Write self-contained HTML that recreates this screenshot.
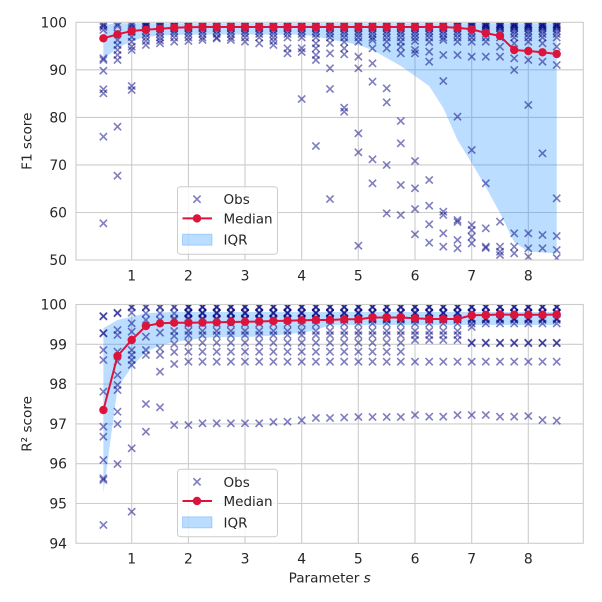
<!DOCTYPE html>
<html><head><meta charset="utf-8"><style>
html,body{margin:0;padding:0;background:#fff;}
svg{display:block;}
text{font-family:"DejaVu Sans","Liberation Sans",sans-serif;fill:#262626;}
</style></head><body>
<svg width="602" height="602" viewBox="0 0 602 602" xmlns="http://www.w3.org/2000/svg">
<defs>
<clipPath id="c1"><rect x="76" y="22.3" width="507.3" height="237.7"/></clipPath>
<clipPath id="c2"><rect x="76" y="304.5" width="507.3" height="238.8"/></clipPath>
<path id="m" d="M-3.6,-3.6L3.6,3.6M-3.6,3.6L3.6,-3.6" stroke="#000080" stroke-opacity="0.5" stroke-width="1.65" fill="none"/>
<g id="tb"><use href="#m" y="23.8"/><use href="#m" y="24.5"/><use href="#m" y="25"/><use href="#m" y="26.5"/><use href="#m" y="27"/><use href="#m" y="28.5"/><use href="#m" y="31"/><use href="#m" y="34"/><use href="#m" y="37.5"/></g>
<g id="bb"><use href="#m" y="306.5"/><use href="#m" y="307"/><use href="#m" y="307.5"/><use href="#m" y="312.5"/><use href="#m" y="313"/><use href="#m" y="313.5"/><use href="#m" y="318.5"/><use href="#m" y="319"/><use href="#m" y="320"/><use href="#m" y="323.5"/><use href="#m" y="331"/><use href="#m" y="335"/><use href="#m" y="342.7"/><use href="#m" y="351.7"/><use href="#m" y="361.7"/></g>
<g id="bc"><use href="#m" y="306.5"/><use href="#m" y="307"/><use href="#m" y="307.5"/><use href="#m" y="312.5"/><use href="#m" y="313"/><use href="#m" y="313.5"/><use href="#m" y="318.5"/><use href="#m" y="319"/><use href="#m" y="320"/><use href="#m" y="323.5"/><use href="#m" y="331"/><use href="#m" y="335"/><use href="#m" y="340"/><use href="#m" y="361.7"/></g>
<g id="bd"><use href="#m" y="306.5"/><use href="#m" y="307"/><use href="#m" y="307.5"/><use href="#m" y="312.5"/><use href="#m" y="313"/><use href="#m" y="313.5"/><use href="#m" y="318.5"/><use href="#m" y="319"/><use href="#m" y="320"/><use href="#m" y="323.5"/><use href="#m" y="342.7"/><use href="#m" y="343.2"/><use href="#m" y="361.7"/></g>
</defs>

<!-- ===== TOP AXES ===== -->
<g stroke="#cccccc" stroke-width="1.1">
<line x1="76" y1="69.8" x2="583.3" y2="69.8"/><line x1="76" y1="117.4" x2="583.3" y2="117.4"/><line x1="76" y1="164.9" x2="583.3" y2="164.9"/><line x1="76" y1="212.5" x2="583.3" y2="212.5"/>
<line x1="131.7" y1="22.3" x2="131.7" y2="260"/><line x1="188.4" y1="22.3" x2="188.4" y2="260"/><line x1="245" y1="22.3" x2="245" y2="260"/><line x1="301.7" y1="22.3" x2="301.7" y2="260"/><line x1="358.3" y1="22.3" x2="358.3" y2="260"/><line x1="415" y1="22.3" x2="415" y2="260"/><line x1="471.7" y1="22.3" x2="471.7" y2="260"/><line x1="528.3" y1="22.3" x2="528.3" y2="260"/>
</g>
<g clip-path="url(#c1)">
<polygon fill="#1e90ff" fill-opacity="0.3" points="103.4,25 117.5,23.3 556.7,23.3 556.7,253.3 542.5,252.5 528.3,251.5 514.2,242 500,213 485.8,187 471.7,163 457.5,140 443.3,108 429.2,86 415,76 400.8,66 386.7,58 372.5,50 358.4,45 344.2,42 330,39.5 315.9,36.5 301.7,34.5 188.4,34.5 174.2,35 160,35.5 145.9,37 131.7,41 117.5,48 103.4,58.9"/>
<g transform="translate(103.4,0)"><use href="#m" y="24"/><use href="#m" y="25.5"/><use href="#m" y="27"/><use href="#m" y="30"/><use href="#m" y="58.3"/><use href="#m" y="60"/><use href="#m" y="70.7"/><use href="#m" y="89.3"/><use href="#m" y="93.3"/><use href="#m" y="136.7"/><use href="#m" y="223.3"/></g>
<g transform="translate(117.5,0)"><use href="#m" y="24"/><use href="#m" y="26"/><use href="#m" y="33.3"/><use href="#m" y="40"/><use href="#m" y="45"/><use href="#m" y="50"/><use href="#m" y="55"/><use href="#m" y="60"/><use href="#m" y="126.7"/><use href="#m" y="175.7"/></g>
<g transform="translate(131.7,0)"><use href="#m" y="24"/><use href="#m" y="25.5"/><use href="#m" y="28"/><use href="#m" y="32"/><use href="#m" y="37"/><use href="#m" y="41.7"/><use href="#m" y="46.7"/><use href="#m" y="50"/><use href="#m" y="86"/><use href="#m" y="90"/></g>
<g transform="translate(145.9,0)"><use href="#tb"/><use href="#m" y="41"/><use href="#m" y="45"/></g>
<g transform="translate(160,0)"><use href="#tb"/><use href="#m" y="40.5"/><use href="#m" y="43.3"/></g>
<g transform="translate(174.2,0)"><use href="#tb"/><use href="#m" y="41.7"/></g>
<g transform="translate(188.4,0)"><use href="#tb"/><use href="#m" y="41"/></g>
<g transform="translate(202.5,0)"><use href="#tb"/><use href="#m" y="40"/></g>
<g transform="translate(216.7,0)"><use href="#tb"/><use href="#m" y="38.5"/></g>
<g transform="translate(230.9,0)"><use href="#tb"/><use href="#m" y="40"/></g>
<g transform="translate(245,0)"><use href="#tb"/><use href="#m" y="41.7"/></g>
<g transform="translate(259.2,0)"><use href="#tb"/><use href="#m" y="43.3"/></g>
<g transform="translate(273.4,0)"><use href="#tb"/><use href="#m" y="41"/><use href="#m" y="45"/></g>
<g transform="translate(287.5,0)"><use href="#tb"/><use href="#m" y="48.3"/><use href="#m" y="53.3"/></g>
<g transform="translate(301.7,0)"><use href="#tb"/><use href="#m" y="48.3"/><use href="#m" y="52"/><use href="#m" y="99"/></g>
<g transform="translate(315.9,0)"><use href="#tb"/><use href="#m" y="43.3"/><use href="#m" y="48.3"/><use href="#m" y="55"/><use href="#m" y="60"/><use href="#m" y="146"/></g>
<g transform="translate(330,0)"><use href="#tb"/><use href="#m" y="43"/><use href="#m" y="53.3"/><use href="#m" y="68.3"/><use href="#m" y="89"/><use href="#m" y="199"/></g>
<g transform="translate(344.2,0)"><use href="#tb"/><use href="#m" y="42"/><use href="#m" y="48.3"/><use href="#m" y="54.3"/><use href="#m" y="107.7"/><use href="#m" y="111.7"/></g>
<g transform="translate(358.4,0)"><use href="#tb"/><use href="#m" y="41.7"/><use href="#m" y="56.7"/><use href="#m" y="68.3"/><use href="#m" y="133.3"/><use href="#m" y="152.3"/><use href="#m" y="245.7"/></g>
<g transform="translate(372.5,0)"><use href="#tb"/><use href="#m" y="40"/><use href="#m" y="48.3"/><use href="#m" y="63.3"/><use href="#m" y="81.7"/><use href="#m" y="159.3"/><use href="#m" y="183.3"/></g>
<g transform="translate(386.7,0)"><use href="#tb"/><use href="#m" y="41.7"/><use href="#m" y="48.3"/><use href="#m" y="88.3"/><use href="#m" y="102.3"/><use href="#m" y="165"/><use href="#m" y="213.3"/></g>
<g transform="translate(400.8,0)"><use href="#tb"/><use href="#m" y="41.7"/><use href="#m" y="46.7"/><use href="#m" y="53.3"/><use href="#m" y="121"/><use href="#m" y="143.3"/><use href="#m" y="185"/><use href="#m" y="215"/></g>
<g transform="translate(415,0)"><use href="#tb"/><use href="#m" y="41"/><use href="#m" y="50"/><use href="#m" y="53.3"/><use href="#m" y="161"/><use href="#m" y="188.3"/><use href="#m" y="209"/><use href="#m" y="234.3"/></g>
<g transform="translate(429.2,0)"><use href="#tb"/><use href="#m" y="42"/><use href="#m" y="51.7"/><use href="#m" y="61.7"/><use href="#m" y="180"/><use href="#m" y="205.7"/><use href="#m" y="224.3"/><use href="#m" y="242.7"/></g>
<g transform="translate(443.3,0)"><use href="#tb"/><use href="#m" y="40"/><use href="#m" y="55"/><use href="#m" y="81"/><use href="#m" y="211.7"/><use href="#m" y="215"/><use href="#m" y="233.3"/><use href="#m" y="246.7"/></g>
<g transform="translate(457.5,0)"><use href="#tb"/><use href="#m" y="41.7"/><use href="#m" y="55"/><use href="#m" y="116.7"/><use href="#m" y="220"/><use href="#m" y="222"/><use href="#m" y="240"/><use href="#m" y="248.3"/></g>
<g transform="translate(471.7,0)"><use href="#tb"/><use href="#m" y="41.7"/><use href="#m" y="56.7"/><use href="#m" y="150"/><use href="#m" y="225"/><use href="#m" y="230"/><use href="#m" y="236.7"/><use href="#m" y="243.3"/></g>
<g transform="translate(485.8,0)"><use href="#tb"/><use href="#m" y="41.7"/><use href="#m" y="56.7"/><use href="#m" y="183.3"/><use href="#m" y="228.3"/><use href="#m" y="246.7"/><use href="#m" y="248"/></g>
<g transform="translate(500,0)"><use href="#tb"/><use href="#m" y="46.7"/><use href="#m" y="56.7"/><use href="#m" y="221.7"/><use href="#m" y="246.7"/><use href="#m" y="251.7"/><use href="#m" y="255"/></g>
<g transform="translate(514.2,0)"><use href="#tb"/><use href="#m" y="43.3"/><use href="#m" y="58.3"/><use href="#m" y="70"/><use href="#m" y="233.3"/><use href="#m" y="246.7"/><use href="#m" y="253.3"/></g>
<g transform="translate(528.3,0)"><use href="#tb"/><use href="#m" y="41.7"/><use href="#m" y="60"/><use href="#m" y="105"/><use href="#m" y="233.3"/><use href="#m" y="248.3"/><use href="#m" y="256.7"/></g>
<g transform="translate(542.5,0)"><use href="#tb"/><use href="#m" y="43.3"/><use href="#m" y="61.7"/><use href="#m" y="153.3"/><use href="#m" y="235"/><use href="#m" y="248.3"/></g>
<g transform="translate(556.7,0)"><use href="#tb"/><use href="#m" y="46.7"/><use href="#m" y="65"/><use href="#m" y="198.3"/><use href="#m" y="236"/><use href="#m" y="250"/><use href="#m" y="258"/></g>
<polyline fill="none" stroke="#dc143c" stroke-width="2" points="103.4,38.3 117.5,34.3 131.7,31 145.9,29.7 160,28.7 174.2,27.7 188.4,27.2 202.5,27 216.7,27 230.9,27 245,27 259.2,27 273.4,27 287.5,27 301.7,27 315.9,27 330,27 344.2,27 358.4,27 372.5,27 386.7,27 400.8,27 415,27 429.2,27 443.3,27 457.5,27.8 471.7,29.3 485.8,33 500,36 514.2,50 528.3,51 542.5,52.3 556.7,54"/>
<g fill="#dc143c">
<circle cx="103.4" cy="38.3" r="4.2"/><circle cx="117.5" cy="34.3" r="4.2"/><circle cx="131.7" cy="31" r="4.2"/><circle cx="145.9" cy="29.7" r="4.2"/><circle cx="160" cy="28.7" r="4.2"/><circle cx="174.2" cy="27.7" r="4.2"/><circle cx="188.4" cy="27.2" r="4.2"/><circle cx="202.5" cy="27" r="4.2"/><circle cx="216.7" cy="27" r="4.2"/><circle cx="230.9" cy="27" r="4.2"/><circle cx="245" cy="27" r="4.2"/><circle cx="259.2" cy="27" r="4.2"/><circle cx="273.4" cy="27" r="4.2"/><circle cx="287.5" cy="27" r="4.2"/><circle cx="301.7" cy="27" r="4.2"/><circle cx="315.9" cy="27" r="4.2"/><circle cx="330" cy="27" r="4.2"/><circle cx="344.2" cy="27" r="4.2"/><circle cx="358.4" cy="27" r="4.2"/><circle cx="372.5" cy="27" r="4.2"/><circle cx="386.7" cy="27" r="4.2"/><circle cx="400.8" cy="27" r="4.2"/><circle cx="415" cy="27" r="4.2"/><circle cx="429.2" cy="27" r="4.2"/><circle cx="443.3" cy="27" r="4.2"/><circle cx="457.5" cy="27.8" r="4.2"/><circle cx="471.7" cy="29.3" r="4.2"/><circle cx="485.8" cy="33" r="4.2"/><circle cx="500" cy="36" r="4.2"/><circle cx="514.2" cy="50" r="4.2"/><circle cx="528.3" cy="51" r="4.2"/><circle cx="542.5" cy="52.3" r="4.2"/><circle cx="556.7" cy="54" r="4.2"/>
</g>
</g>
<rect x="76" y="22.3" width="507.3" height="237.7" fill="none" stroke="#cccccc" stroke-width="1.1"/>

<!-- ===== BOTTOM AXES ===== -->
<g stroke="#cccccc" stroke-width="1.1">
<line x1="76" y1="344.3" x2="583.3" y2="344.3"/><line x1="76" y1="384.1" x2="583.3" y2="384.1"/><line x1="76" y1="423.9" x2="583.3" y2="423.9"/><line x1="76" y1="463.7" x2="583.3" y2="463.7"/><line x1="76" y1="503.5" x2="583.3" y2="503.5"/>
<line x1="131.7" y1="304.5" x2="131.7" y2="543.3"/><line x1="188.4" y1="304.5" x2="188.4" y2="543.3"/><line x1="245" y1="304.5" x2="245" y2="543.3"/><line x1="301.7" y1="304.5" x2="301.7" y2="543.3"/><line x1="358.3" y1="304.5" x2="358.3" y2="543.3"/><line x1="415" y1="304.5" x2="415" y2="543.3"/><line x1="471.7" y1="304.5" x2="471.7" y2="543.3"/><line x1="528.3" y1="304.5" x2="528.3" y2="543.3"/>
</g>
<g clip-path="url(#c2)">
<polygon fill="#1e90ff" fill-opacity="0.3" points="103.4,328.3 117.5,320 131.7,316.7 145.9,313.3 160,312.5 174.2,312 556.7,312 556.7,325 330,325 315.9,330 301.7,333 287.5,334 273.4,335.5 259.2,336.5 245,337 216.7,337 202.5,338 188.4,340 174.2,342 160,345.5 145.9,352 131.7,366.7 117.5,388 103.4,493"/>
<g transform="translate(103.4,0)"><use href="#m" y="316"/><use href="#m" y="316.5"/><use href="#m" y="333"/><use href="#m" y="333.5"/><use href="#m" y="350"/><use href="#m" y="360"/><use href="#m" y="391.7"/><use href="#m" y="426.7"/><use href="#m" y="436.7"/><use href="#m" y="460"/><use href="#m" y="478.3"/><use href="#m" y="480"/><use href="#m" y="525"/></g>
<g transform="translate(117.5,0)"><use href="#m" y="312.7"/><use href="#m" y="313.3"/><use href="#m" y="330"/><use href="#m" y="335"/><use href="#m" y="351.7"/><use href="#m" y="361.7"/><use href="#m" y="375"/><use href="#m" y="385"/><use href="#m" y="390"/><use href="#m" y="411.7"/><use href="#m" y="424"/><use href="#m" y="464"/></g>
<g transform="translate(131.7,0)"><use href="#m" y="306.7"/><use href="#m" y="307.5"/><use href="#m" y="312.7"/><use href="#m" y="323.3"/><use href="#m" y="331.7"/><use href="#m" y="350"/><use href="#m" y="355"/><use href="#m" y="360"/><use href="#m" y="365"/><use href="#m" y="448.3"/><use href="#m" y="511.7"/></g>
<g transform="translate(145.9,0)"><use href="#m" y="306.7"/><use href="#m" y="307.5"/><use href="#m" y="313.3"/><use href="#m" y="320"/><use href="#m" y="336.7"/><use href="#m" y="350"/><use href="#m" y="355"/><use href="#m" y="404"/><use href="#m" y="431.7"/></g>
<g transform="translate(160,0)"><use href="#m" y="306.7"/><use href="#m" y="307.5"/><use href="#m" y="313.3"/><use href="#m" y="320"/><use href="#m" y="332.7"/><use href="#m" y="348.3"/><use href="#m" y="355"/><use href="#m" y="371.7"/><use href="#m" y="407.3"/></g>
<g transform="translate(174.2,0)"><use href="#m" y="306.7"/><use href="#m" y="307.5"/><use href="#m" y="313.3"/><use href="#m" y="318.5"/><use href="#m" y="320"/><use href="#m" y="331"/><use href="#m" y="336"/><use href="#m" y="344"/><use href="#m" y="352"/><use href="#m" y="364"/><use href="#m" y="425"/></g>
<use href="#bb" x="188.4"/><use href="#m" x="188.4" y="425"/>
<use href="#bb" x="202.5"/><use href="#m" x="202.5" y="423.3"/>
<use href="#bb" x="216.7"/><use href="#m" x="216.7" y="423.3"/>
<use href="#bb" x="230.9"/><use href="#m" x="230.9" y="423.3"/>
<use href="#bb" x="245"/><use href="#m" x="245" y="423.3"/>
<use href="#bb" x="259.2"/><use href="#m" x="259.2" y="423.3"/>
<use href="#bb" x="273.4"/><use href="#m" x="273.4" y="422"/>
<use href="#bb" x="287.5"/><use href="#m" x="287.5" y="421.7"/>
<use href="#bb" x="301.7"/><use href="#m" x="301.7" y="420.3"/>
<use href="#bb" x="315.9"/><use href="#m" x="315.9" y="418"/>
<use href="#bb" x="330"/><use href="#m" x="330" y="418"/>
<use href="#bb" x="344.2"/><use href="#m" x="344.2" y="417.5"/>
<use href="#bb" x="358.4"/><use href="#m" x="358.4" y="417"/>
<use href="#bb" x="372.5"/><use href="#m" x="372.5" y="417"/>
<use href="#bb" x="386.7"/><use href="#m" x="386.7" y="417"/>
<use href="#bb" x="400.8"/><use href="#m" x="400.8" y="417"/>
<use href="#bc" x="415"/><use href="#m" x="415" y="415"/>
<use href="#bc" x="429.2"/><use href="#m" x="429.2" y="416.7"/>
<use href="#bc" x="443.3"/><use href="#m" x="443.3" y="416.7"/>
<use href="#bc" x="457.5"/><use href="#m" x="457.5" y="415"/>
<use href="#bd" x="471.7"/><use href="#m" x="471.7" y="415"/><use href="#m" x="471.7" y="327"/>
<use href="#bd" x="485.8"/><use href="#m" x="485.8" y="415"/>
<use href="#bd" x="500"/><use href="#m" x="500" y="416.7"/>
<use href="#bd" x="514.2"/><use href="#m" x="514.2" y="416.7"/>
<use href="#bd" x="528.3"/><use href="#m" x="528.3" y="416"/>
<use href="#bd" x="542.5"/><use href="#m" x="542.5" y="420"/>
<use href="#bd" x="556.7"/><use href="#m" x="556.7" y="420.7"/>
<polyline fill="none" stroke="#dc143c" stroke-width="2" points="103.4,410 117.5,356 131.7,340 145.9,326 160,323.3 174.2,322.7 188.4,322.7 202.5,322.5 216.7,322.3 230.9,322 245,321.8 259.2,321.5 273.4,321 287.5,320.7 301.7,320.3 315.9,320 330,320 344.2,319.3 358.4,319.3 372.5,317.5 386.7,317.5 400.8,317.5 415,318.3 429.2,319 443.3,319 457.5,319 471.7,315.3 485.8,315 500,314.5 514.2,314.7 528.3,314.7 542.5,314.7 556.7,314.5"/>
<g fill="#dc143c">
<circle cx="103.4" cy="410" r="4.2"/><circle cx="117.5" cy="356" r="4.2"/><circle cx="131.7" cy="340" r="4.2"/><circle cx="145.9" cy="326" r="4.2"/><circle cx="160" cy="323.3" r="4.2"/><circle cx="174.2" cy="322.7" r="4.2"/><circle cx="188.4" cy="322.7" r="4.2"/><circle cx="202.5" cy="322.5" r="4.2"/><circle cx="216.7" cy="322.3" r="4.2"/><circle cx="230.9" cy="322" r="4.2"/><circle cx="245" cy="321.8" r="4.2"/><circle cx="259.2" cy="321.5" r="4.2"/><circle cx="273.4" cy="321" r="4.2"/><circle cx="287.5" cy="320.7" r="4.2"/><circle cx="301.7" cy="320.3" r="4.2"/><circle cx="315.9" cy="320" r="4.2"/><circle cx="330" cy="320" r="4.2"/><circle cx="344.2" cy="319.3" r="4.2"/><circle cx="358.4" cy="319.3" r="4.2"/><circle cx="372.5" cy="317.5" r="4.2"/><circle cx="386.7" cy="317.5" r="4.2"/><circle cx="400.8" cy="317.5" r="4.2"/><circle cx="415" cy="318.3" r="4.2"/><circle cx="429.2" cy="319" r="4.2"/><circle cx="443.3" cy="319" r="4.2"/><circle cx="457.5" cy="319" r="4.2"/><circle cx="471.7" cy="315.3" r="4.2"/><circle cx="485.8" cy="315" r="4.2"/><circle cx="500" cy="314.5" r="4.2"/><circle cx="514.2" cy="314.7" r="4.2"/><circle cx="528.3" cy="314.7" r="4.2"/><circle cx="542.5" cy="314.7" r="4.2"/><circle cx="556.7" cy="314.5" r="4.2"/>
</g>
</g>
<rect x="76" y="304.5" width="507.3" height="238.8" fill="none" stroke="#cccccc" stroke-width="1.1"/>

<!-- ===== LEGENDS ===== -->
<g transform="translate(177.5,186.7)">
<rect x="0" y="0" width="100" height="67.5" rx="3" fill="#ffffff" fill-opacity="0.8" stroke="#cccccc" stroke-width="1"/>
<use href="#m" x="19.5" y="12.5"/>
<line x1="5" y1="31.7" x2="34.5" y2="31.7" stroke="#dc143c" stroke-width="2"/><circle cx="19.5" cy="31.7" r="4.2" fill="#dc143c"/>
<rect x="5" y="47.5" width="29.5" height="11" fill="#1e90ff" fill-opacity="0.3" stroke="#1e90ff" stroke-opacity="0.3"/>
<text x="46" y="17.5" font-size="13.5">Obs</text>
<text x="46" y="36.7" font-size="13.5">Median</text>
<text x="46" y="58" font-size="13.5">IQR</text>
</g>
<g transform="translate(177.5,469.3)">
<rect x="0" y="0" width="100" height="67.5" rx="3" fill="#ffffff" fill-opacity="0.8" stroke="#cccccc" stroke-width="1"/>
<use href="#m" x="19.5" y="12.5"/>
<line x1="5" y1="31.7" x2="34.5" y2="31.7" stroke="#dc143c" stroke-width="2"/><circle cx="19.5" cy="31.7" r="4.2" fill="#dc143c"/>
<rect x="5" y="47.5" width="29.5" height="11" fill="#1e90ff" fill-opacity="0.3" stroke="#1e90ff" stroke-opacity="0.3"/>
<text x="46" y="17.5" font-size="13.5">Obs</text>
<text x="46" y="36.7" font-size="13.5">Median</text>
<text x="46" y="58" font-size="13.5">IQR</text>
</g>

<!-- ===== TICK LABELS ===== -->
<g font-size="13.9" text-anchor="end">
<text x="67" y="27.3">100</text><text x="67" y="74.8">90</text><text x="67" y="122.4">80</text><text x="67" y="169.9">70</text><text x="67" y="217.5">60</text><text x="67" y="265">50</text>
<text x="67" y="309.5">100</text><text x="67" y="349.3">99</text><text x="67" y="389.1">98</text><text x="67" y="428.9">97</text><text x="67" y="468.7">96</text><text x="67" y="508.5">95</text><text x="67" y="548.3">94</text>
</g>
<g font-size="13.9" text-anchor="middle">
<text x="131.7" y="280.7">1</text><text x="188.4" y="280.7">2</text><text x="245" y="280.7">3</text><text x="301.7" y="280.7">4</text><text x="358.3" y="280.7">5</text><text x="415" y="280.7">6</text><text x="471.7" y="280.7">7</text><text x="528.3" y="280.7">8</text>
<text x="131.7" y="563.3">1</text><text x="188.4" y="563.3">2</text><text x="245" y="563.3">3</text><text x="301.7" y="563.3">4</text><text x="358.3" y="563.3">5</text><text x="415" y="563.3">6</text><text x="471.7" y="563.3">7</text><text x="528.3" y="563.3">8</text>
</g>
<text font-size="13.6" text-anchor="middle" transform="translate(31.5,141.2) rotate(-90)">F1 score</text>
<text font-size="13.6" text-anchor="middle" transform="translate(31.5,423.9) rotate(-90)">R² score</text>
<text font-size="13.6" text-anchor="middle" x="329.7" y="582.5">Parameter <tspan font-style="italic">s</tspan></text>
</svg>
</body></html>
